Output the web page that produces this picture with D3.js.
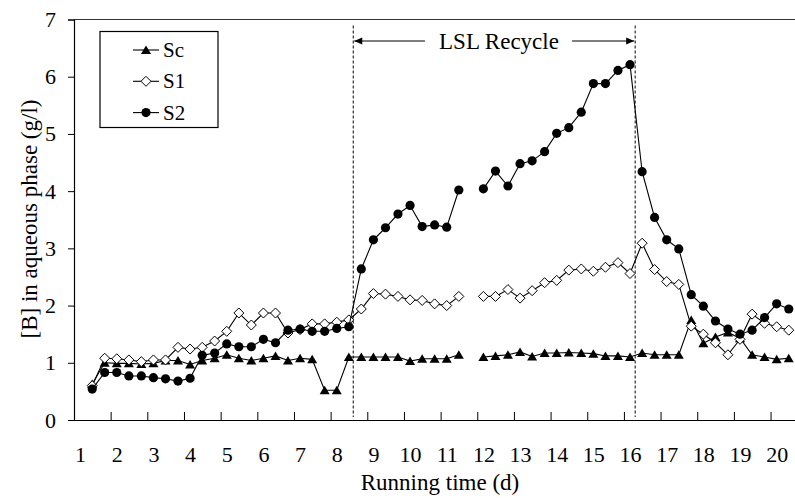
<!DOCTYPE html>
<html>
<head>
<meta charset="utf-8">
<script src="https://cdn.jsdelivr.net/npm/d3@7"></script>
</head>
<body style="margin:0; background:#fff">
<div id="chart"></div>
<script>
// sampling times (d), three samples a day, one missing sample at 11.67
var time = [1.33, 1.67, 2, 2.33, 2.67, 3, 3.33, 3.67, 4, 4.33, 4.67, 5, 5.33, 5.67, 6, 6.33, 6.67, 7, 7.33, 7.67,
            8, 8.33, 8.67, 9, 9.33, 9.67, 10, 10.33, 10.67, 11, 11.33, 11.67, 12, 12.33, 12.67, 13, 13.33, 13.67, 14, 14.33,
            14.67, 15, 15.33, 15.67, 16, 16.33, 16.67, 17, 17.33, 17.67, 18, 18.33, 18.67, 19, 19.33, 19.67, 20, 20.33];

var sc = [0.63, 1.00, 0.99, 0.99, 0.98, 0.99, 1.04, 1.04, 0.97, 1.04, 1.08, 1.14, 1.08, 1.04, 1.08, 1.12, 1.04, 1.08, 1.06, 0.52,
          0.52, 1.10, 1.10, 1.10, 1.10, 1.10, 1.03, 1.07, 1.07, 1.07, 1.14, null, 1.10, 1.12, 1.14, 1.19, 1.11, 1.17, 1.17, 1.18,
          1.17, 1.16, 1.12, 1.12, 1.10, 1.17, 1.14, 1.14, 1.14, 1.75, 1.34, 1.45, 1.53, 1.43, 1.14, 1.10, 1.06, 1.08];

var s1 = [0.60, 1.08, 1.07, 1.05, 1.02, 1.05, 1.05, 1.27, 1.24, 1.27, 1.38, 1.55, 1.87, 1.66, 1.87, 1.87, 1.52, 1.58, 1.68, 1.68,
          1.71, 1.75, 1.94, 2.21, 2.20, 2.16, 2.10, 2.09, 2.03, 2.00, 2.16, null, 2.16, 2.16, 2.28, 2.13, 2.26, 2.40, 2.44, 2.62,
          2.64, 2.60, 2.67, 2.75, 2.56, 3.09, 2.63, 2.42, 2.37, 1.64, 1.50, 1.35, 1.14, 1.41, 1.85, 1.69, 1.63, 1.57];

var s2 = [0.54, 0.83, 0.83, 0.77, 0.77, 0.74, 0.72, 0.68, 0.73, 1.13, 1.17, 1.33, 1.28, 1.28, 1.41, 1.35, 1.57, 1.59, 1.55, 1.55,
          1.60, 1.63, 2.64, 3.15, 3.36, 3.60, 3.75, 3.38, 3.41, 3.37, 4.02, null, 4.04, 4.35, 4.09, 4.48, 4.53, 4.69, 5.01, 5.11,
          5.38, 5.88, 5.88, 6.11, 6.21, 4.34, 3.54, 3.15, 2.99, 2.19, 1.99, 1.73, 1.59, 1.50, 1.57, 1.79, 2.03, 1.94];

var seriesNames = ["Sc", "S1", "S2"];
var xLabels = [1, 2, 3, 4, 5, 6, 7, 8, 9, 10, 11, 12, 13, 14, 15, 16, 17, 18, 19, 20];
var yTicks = [0, 1, 2, 3, 4, 5, 6, 7];
var recycle = [8.45, 16.14];   // start / end of LSL recycle (d)

var W = 795, H = 498;
var margin = { top: 19.5, right: 0, bottom: 78, left: 74 };
var width = W - margin.left - margin.right,
    height = H - margin.top - margin.bottom;

var svg = d3.select("#chart").append("svg")
    .attr("width", W)
    .attr("height", H);

var g = svg.append("g")
    .attr("transform", "translate(" + margin.left + "," + margin.top + ")");

// category axis: each sample is a category, labels every third
var x = d3.scaleLinear().domain([5 / 6, 20.5]).range([0, width]);
var y = d3.scaleLinear().domain([0, 7]).range([height, 0]);

// plot frame (top edge)
g.append("line")
    .attr("x1", 0).attr("x2", width + 5)
    .attr("y1", 0).attr("y2", 0)
    .attr("stroke", "#333").attr("stroke-width", 1.2);

// y axis
var yAxis = d3.axisLeft(y).tickValues(yTicks).tickSize(6).tickPadding(12).tickFormat(d3.format("d"));
var gY = g.append("g").attr("class", "y axis").call(yAxis);
gY.select(".domain").attr("stroke", "#000").attr("stroke-width", 1.2);
gY.selectAll("text").attr("font-size", 22);

// x axis: tick marks point inward, between category groups
var tickPos = xLabels.slice(1).map(function (d) { return d - 1 / 6; });
var gX = g.append("g").attr("class", "x axis")
    .attr("transform", "translate(0," + height + ")")
    .call(d3.axisBottom(x).tickValues(tickPos).tickSize(-8).tickSizeOuter(0).tickFormat(""));
gX.select(".domain").attr("stroke", "#000").attr("stroke-width", 1.2);

var gXL = g.append("g")
    .attr("transform", "translate(0," + height + ")")
    .call(d3.axisBottom(x).tickValues(xLabels).tickSize(0).tickPadding(26));
gXL.select(".domain").remove();
gXL.selectAll("text").attr("font-size", 22);

// axis titles
svg.append("text")
    .attr("x", 440).attr("y", 490)
    .attr("text-anchor", "middle")
    .attr("font-size", 23)
    .text("Running time (d)");

svg.append("text")
    .attr("transform", "translate(37,219) rotate(-90)")
    .attr("text-anchor", "middle")
    .attr("font-size", 23)
    .text("[B] in aqueous phase (g/l)");

// recycle period markers
g.selectAll(".recycle")
    .data(recycle)
  .enter().append("line")
    .attr("class", "recycle")
    .attr("x1", function (d) { return x(d); })
    .attr("x2", function (d) { return x(d); })
    .attr("y1", 6).attr("y2", height - 3)
    .attr("stroke", "#000").attr("stroke-width", 1)
    .attr("stroke-dasharray", "3,2");

// arrow heads drawn as small triangles
var arrowY = 21.5;
var arrows = [[425 - margin.left, x(recycle[0]) + 1, -1], [572 - margin.left, x(recycle[1]) - 1, 1]];
arrows.forEach(function (a) {
  g.append("line")
      .attr("x1", a[0]).attr("x2", a[1])
      .attr("y1", arrowY).attr("y2", arrowY)
      .attr("stroke", "#000").attr("stroke-width", 1.2);
  g.append("path")
      .attr("d", "M" + a[1] + "," + arrowY + "l" + (-8 * a[2]) + ",-3.5v7Z")
      .attr("fill", "#000");
});
g.append("text")
    .attr("x", 499 - margin.left).attr("y", 29.5)
    .attr("text-anchor", "middle")
    .attr("font-size", 23)
    .text("LSL Recycle");

// series
var series = [sc, s1, s2];
var line = d3.line()
    .defined(function (d) { return d[1] != null; })
    .x(function (d) { return x(d[0]); })
    .y(function (d) { return y(d[1]); });

function drawMarker(sel, i) {
  if (i === 0) {
    sel.append("path").attr("d", "M0,-4.5L5,4L-5,4Z").attr("fill", "#000");
  } else if (i === 1) {
    sel.append("path").attr("d", "M0,-5L5,0L0,5L-5,0Z")
        .attr("fill", "#fff").attr("stroke", "#000").attr("stroke-width", 1);
  } else {
    sel.append("circle").attr("r", 4.6).attr("fill", "#000");
  }
}

series.forEach(function (vals, i) {
  var pts = time.map(function (t, j) { return [t, vals[j]]; });
  var sg = g.append("g").attr("class", "series");
  sg.append("path")
      .datum(pts)
      .attr("fill", "none")
      .attr("stroke", "#000")
      .attr("stroke-width", 1.1)
      .attr("d", line);
  sg.selectAll(".pt")
      .data(pts.filter(function (d) { return d[1] != null; }))
    .enter().append("g")
      .attr("class", "pt")
      .attr("transform", function (d) { return "translate(" + x(d[0]) + "," + y(d[1]) + ")"; })
      .each(function () { drawMarker(d3.select(this), i); });
});

// legend
var legend = svg.append("g").attr("transform", "translate(100,31.5)");
legend.append("rect")
    .attr("width", 118).attr("height", 96)
    .attr("fill", "#fff").attr("stroke", "#000").attr("stroke-width", 1.2);

var items = legend.selectAll(".legend")
    .data(seriesNames)
  .enter().append("g")
    .attr("class", "legend")
    .attr("transform", function (d, i) { return "translate(0," + (18.5 + i * 31.3) + ")"; });

items.append("line")
    .attr("x1", 33).attr("x2", 59)
    .attr("stroke", "#000").attr("stroke-width", 1.1);
items.each(function (d, i) {
  var m = d3.select(this).append("g").attr("transform", "translate(46,0)");
  drawMarker(m, i);
});
items.append("text")
    .attr("x", 63).attr("dy", "0.34em")
    .attr("font-size", 21)
    .text(function (d) { return d; });

// serif face on every text element
svg.selectAll("text")
    .style("font-family", "'Times New Roman', 'Liberation Serif', serif")
    .attr("fill", "#000");
</script>
</body>
</html>
